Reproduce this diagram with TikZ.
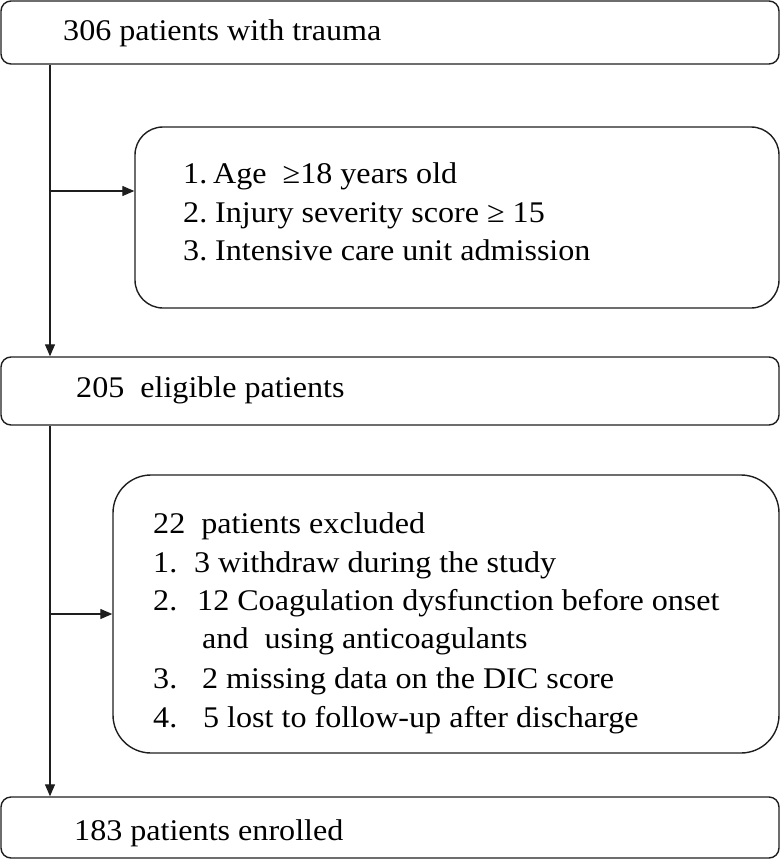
\documentclass[tikz,border=0pt]{standalone}
\usepackage{fontspec}
\setmainfont[FakeStretch=1.07]{Liberation Serif}
\usetikzlibrary{arrows.meta}
\definecolor{ink}{HTML}{1E1E1E}
\begin{document}
\begin{tikzpicture}[x=1pt,y=-1pt,
  box/.style={draw=ink, line width=1.4pt, inner sep=0pt, rounded corners=10pt},
  bigbox/.style={box, rounded corners=#1},
  txt/.style={anchor=base west, inner sep=0pt, font=\fontsize{30}{36}\selectfont, text=black},
  conn/.style={draw=ink, line width=1.3pt, -{Triangle[length=12pt,width=10pt]}}]
\useasboundingbox (0,0) rectangle (781,862);
% boxes
\node[box, minimum width=778pt, minimum height=63pt] (b1) at (390,32.5) {};
\node[bigbox=28pt, minimum width=644pt, minimum height=181pt] (b2) at (457,217.5) {};
\node[box, minimum width=778pt, minimum height=68pt] (b3) at (390,391) {};
\node[bigbox=38pt, minimum width=666pt, minimum height=278pt] (b4) at (446,614) {};
\node[box, minimum width=778pt, minimum height=61pt] (b5) at (390,827.5) {};
% texts
\node[txt] (t1) at (63,40) {306 patients with trauma};
\node[txt] (t21n) at (183,183) {1.};
\node[txt] (t21) at (213,183) {Age~~≥18 years old};
\node[txt] (t22n) at (183,222) {2.};
\node[txt] (t22) at (215,222) {Injury severity score ≥ 15};
\node[txt] (t23n) at (183,260) {3.};
\node[txt] (t23) at (215,260) {Intensive care unit admission};
\node[txt] (t3) at (76,397) {205~~eligible patients};
\node[txt] (t40) at (153,533) {22~~patients excluded};
\node[txt] (t41n) at (153,572) {1.};
\node[txt] (t41) at (194,572) {3 withdraw during the study};
\node[txt] (t42n) at (153,610) {2.};
\node[txt] (t42) at (197,610) {12 Coagulation dysfunction before onset};
\node[txt] (t42b) at (202,648) {and~~using anticoagulants};
\node[txt] (t43n) at (153,688) {3.};
\node[txt] (t43) at (202,688) {2 missing data on the DIC score};
\node[txt] (t44n) at (153,727) {4.};
\node[txt] (t44) at (203,727) {5 lost to follow-up after discharge};
\node[txt] (t5) at (74,840) {183 patients enrolled};
% connectors
\coordinate (s1) at (50,64);
\coordinate (j1) at (50,191);
\coordinate (s2) at (50,425);
\draw[conn] (s1 |- b1.south) -- (s1 |- b3.north);
\draw[conn] (j1) -- (j1 -| b2.west);
\draw[conn] (s2 |- b3.south) -- (s2 |- b5.north);
\draw[conn] (s2 |- b4.west) -- (b4.west);
\end{tikzpicture}
\end{document}
